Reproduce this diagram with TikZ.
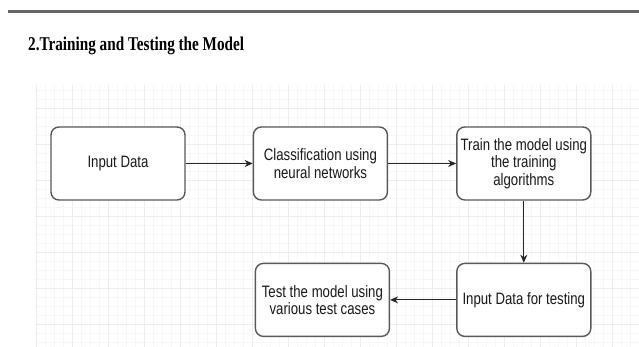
\documentclass[tikz,border=0pt]{standalone}
\usepackage{fontspec}
\usepackage{tikz}
\usetikzlibrary{positioning, calc, arrows.meta}
\newfontfamily\boxfont[FakeStretch=0.8]{Liberation Sans}
\newfontfamily\headfont[FakeStretch=0.78]{Liberation Serif}

\tikzset{
    flowbox/.style={draw=black!65, line width=1.4pt, rounded corners=8pt, fill=white,
        minimum width=134pt, minimum height=73pt, align=center, inner sep=1pt,
        font=\boxfont\fontsize{16.5}{17.5}\selectfont, text=black!90},
    flowarrow/.style={-{Stealth[length=8pt, width=7pt]}, line width=1pt, black!85}
}

\begin{document}
\begin{tikzpicture}[x=1pt, y=-1pt]
        \useasboundingbox (0,0) rectangle (639,347);

        % 1. Rule and heading
        \draw[line width=3pt, black!60] (8,12) -- (639,12);
        \node[anchor=base west, inner sep=0pt, font=\headfont\bfseries\fontsize{19.5}{21}\selectfont] (title) at (28,51) {2.Training and Testing the Model};

        % 2. Faint grid behind the chart
        \draw[black!3, line width=0.5pt] (35,85) grid[step=9pt] (639,347);
        \draw[black!7, line width=0.6pt] (35,85) grid[step=36pt] (639,347);

        % 3. Top row of boxes
        \node[flowbox] (input) at (118,163.5) {Input Data};
        \node[flowbox, right=67pt of input] (classify) {Classification using\\neural networks};
        \node[flowbox, right=68pt of classify] (train) {Train the model using\\the training\\algorithms};

        % 4. Bottom row, going back to the left
        \node[flowbox, below=62pt of train] (testdata) {Input Data for testing};
        \node[flowbox, left=66pt of testdata] (testcases) {Test the model using\\various test cases};

        % 5. Connectors
        \draw[flowarrow] (input) -- (classify);
        \draw[flowarrow] (classify) -- (train);
        \draw[flowarrow] (train) -- (testdata);
        \draw[flowarrow] (testdata) -- (testcases);

    \end{tikzpicture}
\end{document}
